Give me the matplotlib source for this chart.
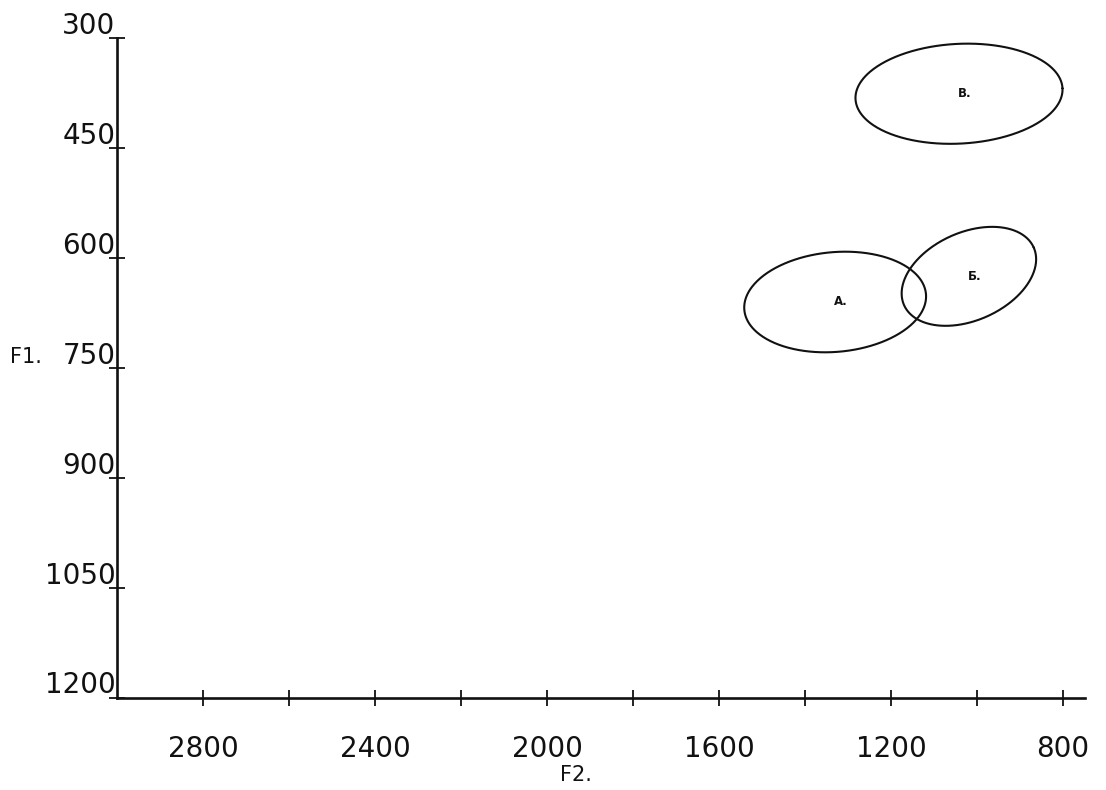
import numpy as np
import matplotlib
matplotlib.use("Agg")
import matplotlib.pyplot as plt

# ---- data ----
f2_ticks = [2800, 2600, 2400, 2200, 2000, 1800, 1600, 1400, 1200, 1000, 800]
f2_labels = ["2800", "", "2400", "", "2000", "", "1600", "", "1200", "", "800"]
f1_ticks = [300, 450, 600, 750, 900, 1050, 1200]
f1_labels = ["300", "450", "600", "750", "900", "1050", "1200"]

vowels = ["А.", "Б.", "В."]
f2_center = [1330, 1019, 1042]      # Hz
f1_center = [660, 625, 376]         # Hz
f2_semi = [212, 165, 241]           # semi-axis (major) in F2 Hz
f1_semi = [68, 60, 68]              # semi-axis (minor) in F1 Hz
tilt_deg = [5, 24, 3]               # tilt of ellipse on the page

W, H, DPI = 11.06, 7.90, 100
fig = plt.figure(figsize=(W, H), dpi=DPI)
left_px, right_px, top_px, bot_px = 117, 1085, 38, 698
ax = fig.add_axes([left_px / 1106, 1 - bot_px / 790,
                   (right_px - left_px) / 1106, (bot_px - top_px) / 790])
ax.set_xlim(3000, 749)
ax.set_ylim(1200, 300)

for s in ["top", "right"]:
    ax.spines[s].set_visible(False)
for s in ["left", "bottom"]:
    ax.spines[s].set_linewidth(1.9)
    ax.spines[s].set_color("#111111")

ax.set_xticks(f2_ticks)
ax.set_xticklabels([])
ax.set_yticks(f1_ticks)
ax.set_yticklabels([])
ax.tick_params(axis="both", direction="inout", length=11, width=1.3, color="#111111")

# tick labels (placed slightly off like the hand-written ones)
for v, lab in zip(f2_ticks, f2_labels):
    if lab:
        ax.annotate(lab, xy=(v, 0), xycoords=("data", "axes fraction"),
                    xytext=(0, -37), textcoords="offset points",
                    ha="center", va="center", fontsize=20, color="#111111")
for v, lab in zip(f1_ticks, f1_labels):
    ax.annotate(lab, xy=(0, v), xycoords=("axes fraction", "data"),
                xytext=(-1, 9), textcoords="offset points",
                ha="right", va="center", fontsize=20, color="#111111")

fig.text(10 / 1106, 1 - 357 / 790, "F1.", ha="left", va="center",
         fontsize=15, color="#111111")
fig.text(560 / 1106, 1 - 775 / 790, "F2.", ha="left", va="center",
         fontsize=15, color="#111111")

# ellipses drawn in page (pixel) space, mapped back to data
sx = (right_px - left_px) / (3000 - 749)   # px per Hz along F2
sy = (bot_px - top_px) / (1200 - 300)      # px per Hz along F1
phi = np.linspace(0, 2 * np.pi, 400)
for name, cx, cy, a_hz, b_hz, t in zip(vowels, f2_center, f1_center,
                                      f2_semi, f1_semi, tilt_deg):
    a = a_hz * sx
    b = b_hz * sy
    tr = np.deg2rad(t)
    dx = a * np.cos(phi) * np.cos(tr) - b * np.sin(phi) * np.sin(tr)
    dy = a * np.cos(phi) * np.sin(tr) + b * np.sin(phi) * np.cos(tr)
    ax.plot(cx - dx / sx, cy - dy / sy, color="#111111", lw=1.5,
            clip_on=False, solid_capstyle="round", solid_joinstyle="round")
    ax.annotate(name, xy=(cx, cy), xytext=(4, 0), textcoords="offset points",
                ha="center", va="center", fontsize=8.5, fontweight="bold",
                color="#111111")

fig.savefig("out.png", dpi=DPI, facecolor="white")
